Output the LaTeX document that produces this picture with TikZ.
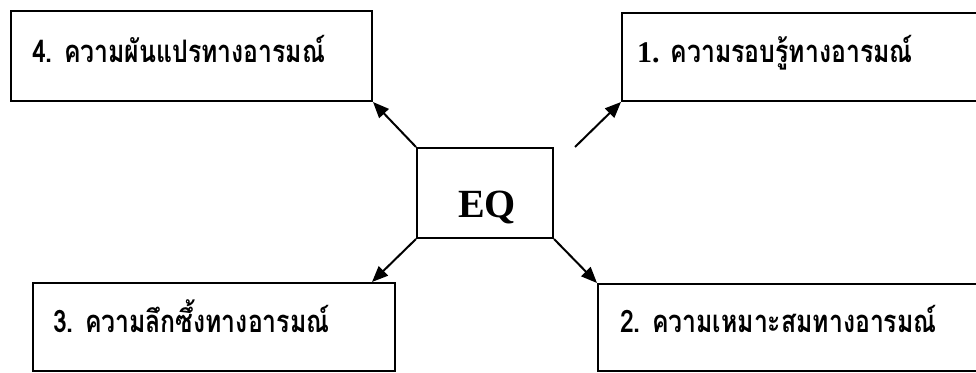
\documentclass[tikz,border=0pt]{standalone}
\usepackage{fontspec}
\newfontfamily\thaifont[Script=Thai, FakeStretch=0.8]{Loma}
\newfontfamily\serifb{Liberation Serif}
\usetikzlibrary{arrows.meta}

\tikzset{
  box/.style={draw, line width=2pt, rectangle, inner sep=0pt, anchor=north west},
  thaitext/.style={anchor=base west, inner sep=0pt, font=\thaifont\bfseries\fontsize{31}{34}\selectfont},
  eqtext/.style={anchor=base west, inner sep=0pt, font=\serifb\bfseries\fontsize{40}{44}\selectfont},
  link/.style={line width=2pt, -{Triangle[length=16pt, width=13pt]}}
}

\begin{document}
\begin{tikzpicture}[x=1pt, y=-1pt]
  \clip (0,0) rectangle (976,372);
  \fill[white] (0,0) rectangle (976,372);

  % central box
  \node[box, minimum width=136pt, minimum height=90pt] (eq) at (416,147) {};
  \node[eqtext] (eqlabel) at (458,217) {EQ};

  % four component boxes
  \node[box, minimum width=361pt, minimum height=90pt] (b4) at (10,10) {};
  \node[box, minimum width=380pt, minimum height=88pt] (b1) at (621,12) {};
  \node[box, minimum width=362pt, minimum height=88pt] (b3) at (32,282) {};
  \node[box, minimum width=400pt, minimum height=87pt] (b2) at (597,283) {};

  \node[thaitext] (t4) at (32,62) {4. ความผันแปรทางอารมณ์};
  \node[thaitext] (t1) at (637,62) {{\serifb\fontsize{30}{34}\selectfont 1.} ความรอบรู้ทางอารมณ์};
  \node[thaitext] (t3) at (53,332) {3. ความลึกซึ้งทางอารมณ์};
  \node[thaitext] (t2) at (620,332) {2. ความเหมาะสมทางอารมณ์};

  % connectors
  \coordinate (s1) at (575,147);
  \coordinate (e3) at (372,282);
  \draw[link] (eq.north west) -- (b4.south east);
  \draw[link] (s1) -- (b1.south west);
  \draw[link] (eq.south west) -- (e3);
  \draw[link] (eq.south east) -- (b2.north west);
\end{tikzpicture}
\end{document}
